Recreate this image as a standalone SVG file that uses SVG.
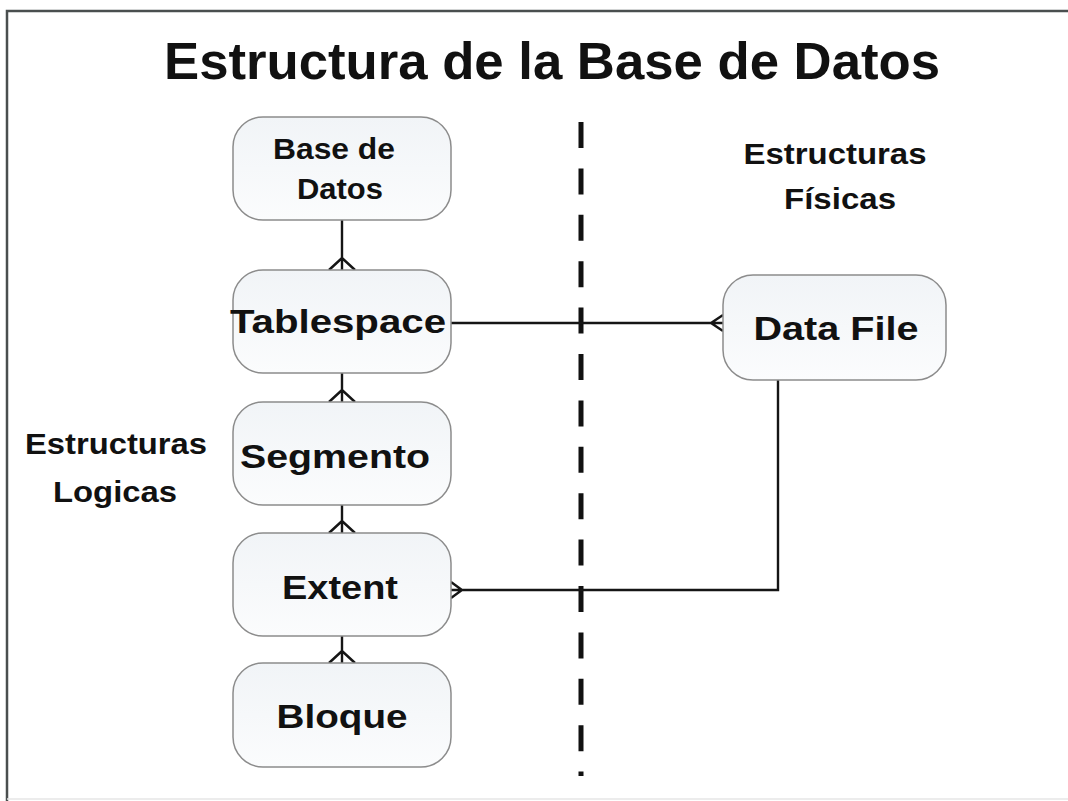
<svg xmlns="http://www.w3.org/2000/svg" width="1068" height="801" viewBox="0 0 1068 801">
<style>
.box{fill:url(#g);stroke:#8c8c8c;stroke-width:1.5}
.t{font-family:"Liberation Sans",Arial,sans-serif;font-weight:bold;fill:#111;text-anchor:middle}
.c{stroke:#151515;stroke-width:2.4;fill:none}
</style>
<defs>
<linearGradient id="g" x1="0" y1="0" x2="0" y2="1">
<stop offset="0" stop-color="#f1f4f7"/>
<stop offset="1" stop-color="#fbfcfd"/>
</linearGradient>
</defs>
<rect x="0" y="0" width="1068" height="801" fill="#fff"/>
<path d="M7,801 V11 H1068" fill="none" stroke="#4a4f4f" stroke-width="2.5"/>
<line x1="7" y1="799" x2="1068" y2="799" stroke="#e6e6e6" stroke-width="1.5"/>
<text class="t" x="552" y="79" font-size="52" textLength="776" lengthAdjust="spacingAndGlyphs">Estructura de la Base de Datos</text>
<line x1="581" y1="122" x2="581" y2="776" stroke="#111" stroke-width="5" stroke-dasharray="26 20.4"/>
<g id="connectors" class="c">
<path d="M342,220 V270 M329,270 L342,258 L355,270"/>
<path d="M342,373 V402 M329,402 L342,390 L355,402"/>
<path d="M342,505 V533 M329,533 L342,521 L355,533"/>
<path d="M342,636 V663 M329,663 L342,651 L355,663"/>
<path d="M451,323 H723 M723,315 L711,323 L723,331"/>
<path d="M778,380 V590 H451 M451,582 L462,590 L451,598"/>
</g>
<g id="base-de-datos">
<rect class="box" x="233" y="117" width="218" height="103" rx="30"/>
<text class="t" x="334" y="159" font-size="30" textLength="122" lengthAdjust="spacingAndGlyphs">Base de</text>
<text class="t" x="340" y="199" font-size="30" textLength="86" lengthAdjust="spacingAndGlyphs">Datos</text>
</g>
<g id="tablespace">
<rect class="box" x="233" y="270" width="218" height="103" rx="30"/>
<text class="t" x="338" y="333" font-size="34" textLength="216" lengthAdjust="spacingAndGlyphs">Tablespace</text>
</g>
<g id="segmento">
<rect class="box" x="233" y="402" width="218" height="103" rx="30"/>
<text class="t" x="335" y="468" font-size="34" textLength="190" lengthAdjust="spacingAndGlyphs">Segmento</text>
</g>
<g id="extent">
<rect class="box" x="233" y="533" width="218" height="103" rx="30"/>
<text class="t" x="340" y="599" font-size="34" textLength="116" lengthAdjust="spacingAndGlyphs">Extent</text>
</g>
<g id="bloque">
<rect class="box" x="233" y="663" width="218" height="104" rx="30"/>
<text class="t" x="342" y="728" font-size="34" textLength="131" lengthAdjust="spacingAndGlyphs">Bloque</text>
</g>
<g id="data-file">
<rect class="box" x="723" y="275" width="223" height="105" rx="30"/>
<text class="t" x="836" y="340" font-size="34" textLength="165" lengthAdjust="spacingAndGlyphs">Data File</text>
</g>
<g id="estructuras-fisicas">
<text class="t" x="835" y="164" font-size="30" textLength="183" lengthAdjust="spacingAndGlyphs">Estructuras</text>
<text class="t" x="840" y="209" font-size="30" textLength="112" lengthAdjust="spacingAndGlyphs">Físicas</text>
</g>
<g id="estructuras-logicas">
<text class="t" x="116" y="454" font-size="30" textLength="182" lengthAdjust="spacingAndGlyphs">Estructuras</text>
<text class="t" x="115" y="502" font-size="30" textLength="124" lengthAdjust="spacingAndGlyphs">Logicas</text>
</g>
</svg>
